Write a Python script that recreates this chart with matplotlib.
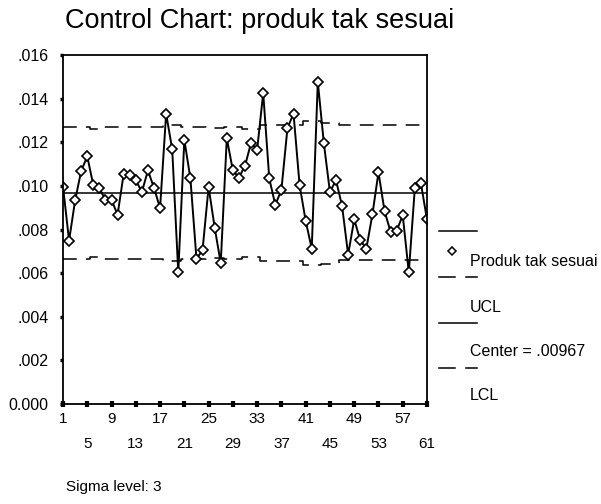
import matplotlib
matplotlib.use('Agg')
from matplotlib import pyplot as plt
from matplotlib.lines import Line2D
from matplotlib.ticker import FuncFormatter


# Proportion of non-conforming product per sample
samples = list(range(1, 62))
produkTakSesuai = [
    .00997, .00749, .00934, .01069, .01135, .01003, .00989, .00935, .00935, .00868,
    .01055, .01049, .01026, .00972, .01071, .00991, .00898, .01331, .01168, .00603,
    .01211, .01034, .00666, .00705, .00995, .00809, .00646, .01218, .01071, .01038,
    .01092, .01197, .01165, .01426, .01034, .00912, .00982, .01265, .01331, .01003,
    .00840, .00712, .01477, .01195, .00972, .01026, .00908, .00685, .00846, .00751,
    .00712, .00869, .01062, .00885, .00789, .00795, .00865, .00603, .00992, .01011,
    .00846,
]
center = .00967

# Control limits vary with sample size
ucl = [.01269] * 5 + [.01262] * 2 + [.01269] * 10 + [.01277] * 3 + [.01269] * 4 \
    + [.01266] * 3 + [.01269] * 3 + [.01262] * 3 + [.01277] * 4 + [.01280] * 3 \
    + [.01297] * 3 + [.01290] * 3 + [.01277] * 15
lcl = [.00665] * 5 + [.00672] * 2 + [.00665] * 10 + [.00657] * 3 + [.00665] * 4 \
    + [.00668] * 3 + [.00665] * 3 + [.00672] * 3 + [.00657] * 4 + [.00654] * 3 \
    + [.00637] * 3 + [.00644] * 3 + [.00660] * 15

xTicks = list(range(1, 62, 4))
yTicks = [0, .002, .004, .006, .008, .010, .012, .014, .016]

W, H = 601, 504


def px(x, y):
    # pixel position -> figure fraction
    return x / W, 1 - y / H


plt.rcParams['font.family'] = ['Liberation Sans', 'DejaVu Sans']

fig = plt.figure(figsize=(W / 100, H / 100), dpi=100)
ax = fig.add_axes([63 / W, 1 - 404 / H, (427 - 63) / W, (404 - 55) / H])

dashStyle = (0, (9, 6))
ax.plot(samples, ucl, color='black', lw=1.1, linestyle=dashStyle, drawstyle='steps-mid')
ax.plot(samples, lcl, color='black', lw=1.1, linestyle=dashStyle, drawstyle='steps-mid')
ax.plot([samples[0], samples[-1]], [center, center], color='black', lw=1.1)
ax.plot(samples, produkTakSesuai, color='black', lw=1.4, marker='D', markersize=5.2,
        markerfacecolor='white', markeredgecolor='black', markeredgewidth=1.2)

ax.set_xlim(1, 61)
ax.set_ylim(0, .016)
ax.set_xticks(xTicks)
ax.set_xticklabels(['' for _ in xTicks])
ax.set_yticks(yTicks)
ax.yaxis.set_major_formatter(FuncFormatter(lambda v, p: '0.000' if v == 0 else ('%.3f' % v)[1:]))
ax.tick_params(axis='y', direction='out', length=2.5, width=2.5, labelsize=11.5, pad=8)
ax.tick_params(axis='x', direction='inout', length=4, width=3, labelsize=11)
for spine in ax.spines.values():
    spine.set_linewidth(1.3)

# Staggered x tick labels, like the SPSS output
for i, t in enumerate(xTicks):
    yPos = 419 if i % 2 == 0 else 444
    fig.text(*px(63 + (t - 1) * (427 - 63) / 60, yPos), str(t), ha='center', va='center', fontsize=11)

fig.text(*px(260, 21), 'Control Chart: produk tak sesuai', ha='center', va='center', fontsize=19.5)
fig.text(*px(66, 487), 'Sigma level: 3', ha='left', va='center', fontsize=11)

# Legend drawn by hand to the right of the plot
def legendLine(y, dashed):
    if dashed:
        for x0, x1 in [(439, 455), (466, 477)]:
            fig.add_artist(Line2D([x0 / W, x1 / W], [1 - y / H] * 2, color='black', lw=1.1,
                                  transform=fig.transFigure))
    else:
        fig.add_artist(Line2D([439 / W, 477 / W], [1 - y / H] * 2, color='black', lw=1.1,
                              transform=fig.transFigure))


legendLine(231, False)
fig.add_artist(Line2D([452 / W], [1 - 251 / H], marker='D', markersize=4.5, color='black',
                      markerfacecolor='white', markeredgewidth=1.1, transform=fig.transFigure))
fig.text(*px(470, 261), 'Produk tak sesuai', ha='left', va='center', fontsize=11.5)
legendLine(277, True)
fig.text(*px(470, 307), 'UCL', ha='left', va='center', fontsize=11.5)
legendLine(323, False)
fig.text(*px(470, 352), 'Center = .00967', ha='left', va='center', fontsize=11.5)
legendLine(368, True)
fig.text(*px(470, 395), 'LCL', ha='left', va='center', fontsize=11.5)

plt.savefig('out.png', dpi=100)
